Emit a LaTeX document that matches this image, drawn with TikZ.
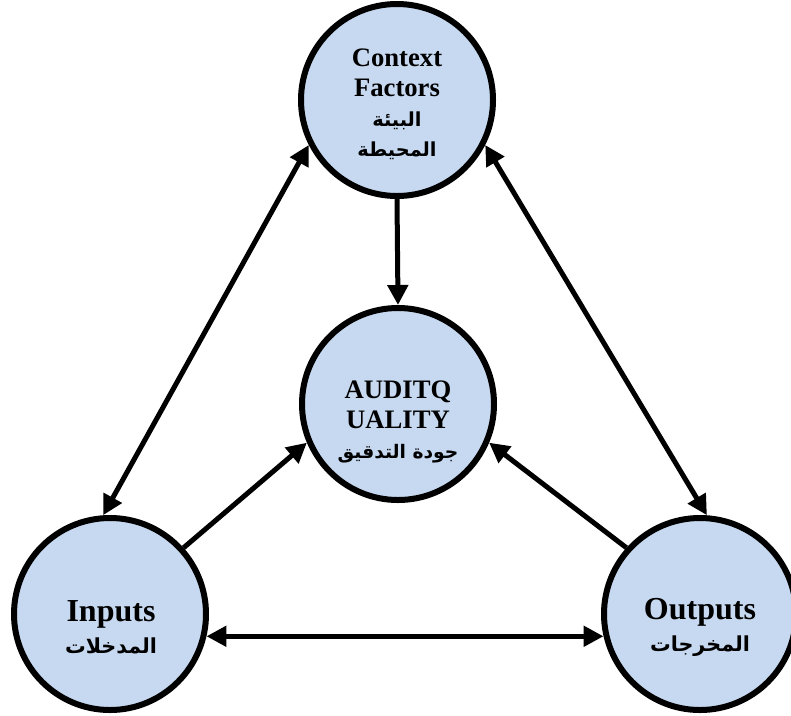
\documentclass[tikz,border=0pt]{standalone}
\usepackage{fontspec}
\setmainfont{Liberation Serif}
\newfontfamily\arabicfont[Script=Arabic]{DejaVu Sans}
\TeXXeTstate=1
\usetikzlibrary{arrows.meta}
\definecolor{bubble}{RGB}{198,217,240}
\newcommand\arsize[1]{\arabicfont\fontsize{#1}{22}\selectfont}
\begin{document}
\begin{tikzpicture}[x=0.75pt,y=-0.75pt,
  bubble/.style={circle,draw=black,fill=bubble,line width=4.5pt,minimum size=144pt,inner sep=0pt},
  lbl/.style={align=center,font=\bfseries\fontsize{20}{22.5}\selectfont},
  biglbl/.style={align=center,font=\bfseries\fontsize{24}{24}\selectfont},
  link/.style={line width=3.75pt,>={Triangle[length=15pt,width=15pt]}}]
\useasboundingbox (0,0) rectangle (791,715);

% the four circles
\node[bubble] (ctx) at (397,100) {};
\node[bubble] (aq)  at (398,404) {};
\node[bubble] (inp) at (110,614) {};
\node[bubble] (out) at (700,614) {};

% labels
\node[lbl] (ctxlabel) at (397,104)
  {Context\\Factors\\{\arsize{14.5}\beginR البيئة\endR}\\{\arsize{14.5}\beginR المحيطة\endR}};
\node[lbl] (aqlabel) at (398,422)
  {AUDITQ\\UALITY\\{\arsize{14}\beginR جودة التدقيق\endR}};
\node[biglbl] (inplabel) at (111,627)
  {Inputs\\{\arsize{15.5}\beginR المدخلات\endR}};
\node[biglbl] (outlabel) at (700,627)
  {Outputs\\{\arsize{15.5}\beginR المخرجات\endR}};

% connectors
\draw[link,->]  (ctx.south) -- (aq.north);
\draw[link,<->] (ctx.207) -- (inp.94);
\draw[link,<->] (ctx.333) -- (out.86);
\draw[link,->]  (inp.42) -- (aq.203);
\draw[link,->]  (out.138) -- (aq.337);
\draw[link,<->] (inp.-13.5) -- (out.193.5);
\end{tikzpicture}
\end{document}
